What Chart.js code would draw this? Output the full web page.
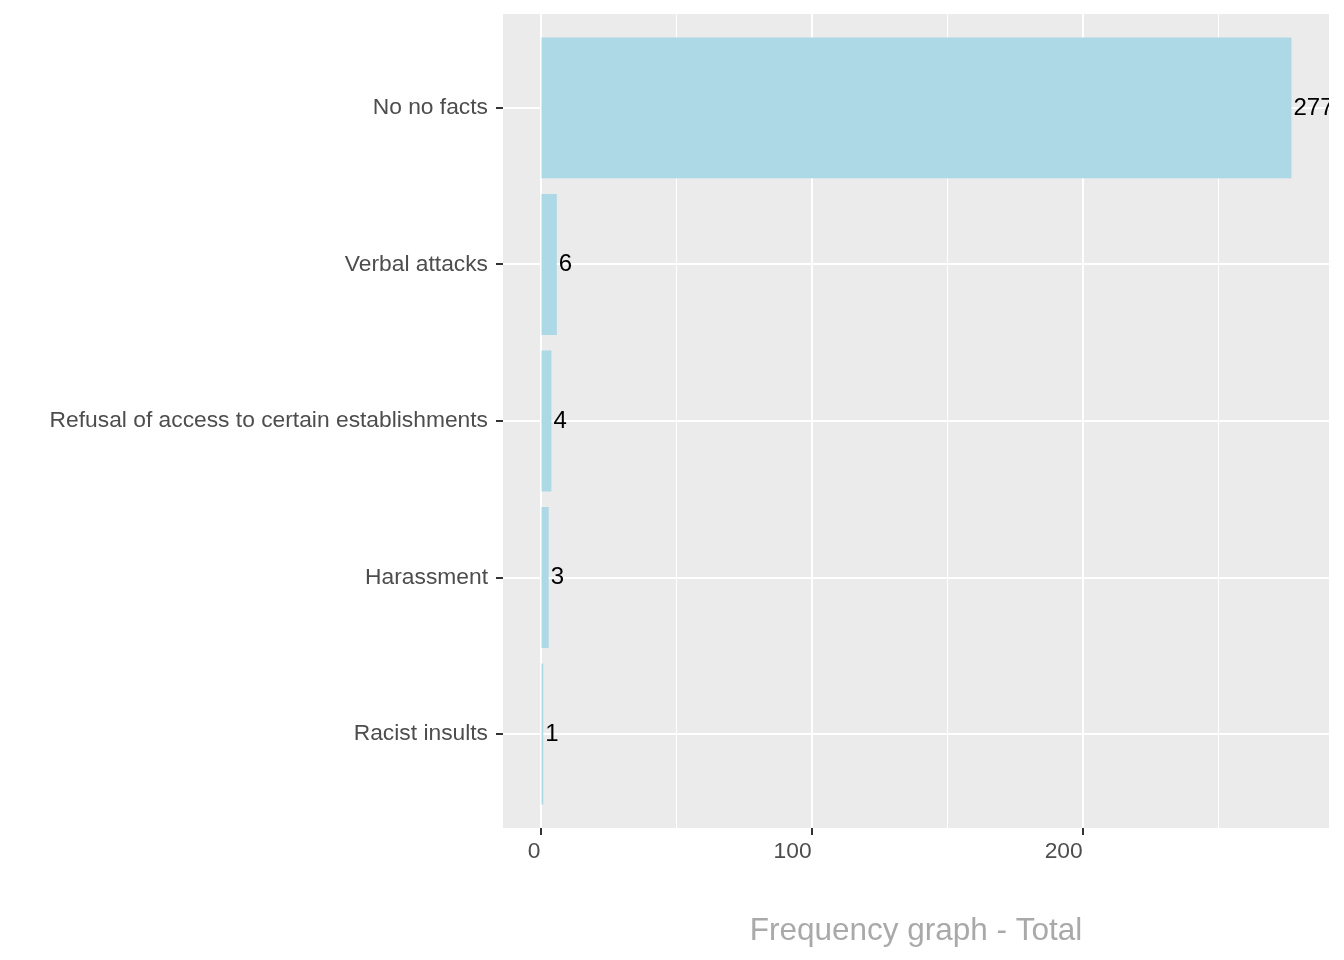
<!DOCTYPE html>
<html>
<head>
<meta charset="utf-8">
<script src="https://cdn.jsdelivr.net/npm/chart.js@4/dist/chart.umd.min.js"></script>
<style>
  html, body { margin: 0; padding: 0; background: #ffffff; }
  #wrap { width: 1344px; height: 960px; position: relative; }
</style>
</head>
<body>
<div id="wrap"><canvas id="c" width="1344" height="960"></canvas></div>
<script>
const categories = ["No no facts", "Verbal attacks", "Refusal of access to certain establishments", "Harassment", "Racist insults"];
const values = [277, 6, 4, 3, 1];
const xTickValues = [0, 50, 100, 150, 200, 250];
const xTickLabels = ["0", "", "100", "", "200", ""];
const axisTitle = "Frequency graph - Total";

const FONT = "Arial, 'Liberation Sans', Helvetica, sans-serif";
const maxVal = Math.max(...values);
const xExp = maxVal * 0.05;

const panelBg = {
  id: 'panelBg',
  beforeDraw(chart) {
    const a = chart.chartArea, ctx = chart.ctx;
    ctx.save();
    ctx.fillStyle = '#EBEBEB';
    ctx.fillRect(a.left, a.top, a.right - a.left, a.bottom - a.top);
    ctx.restore();
  }
};

const valueLabels = {
  id: 'valueLabels',
  afterDatasetsDraw(chart) {
    const a = chart.chartArea, ctx = chart.ctx;
    const xs = chart.scales.x, ys = chart.scales.y;
    ctx.save();
    ctx.beginPath();
    ctx.rect(a.left, a.top, a.right - a.left, a.bottom - a.top);
    ctx.clip();
    ctx.fillStyle = '#000000';
    ctx.font = '24px ' + FONT;
    ctx.textAlign = 'left';
    ctx.textBaseline = 'middle';
    values.forEach((v, i) => {
      ctx.fillText(String(v), xs.getPixelForValue(v) + 2, ys.getPixelForValue(i + 1));
    });
    ctx.restore();
  }
};

new Chart(document.getElementById('c'), {
  type: 'bar',
  data: {
    datasets: [{
      data: categories.map((c, i) => ({ x: values[i], y: i + 1 })),
      backgroundColor: '#ADD8E6',
      borderWidth: 0,
      barPercentage: 0.9,
      categoryPercentage: 1.0
    }]
  },
  options: {
    indexAxis: 'y',
    responsive: false,
    animation: false,
    events: [],
    layout: { padding: { left: 0, right: 15, top: 14, bottom: 0 }, autoPadding: false },
    plugins: { legend: { display: false }, tooltip: { enabled: false }, title: { display: false } },
    scales: {
      x: {
        type: 'linear',
        position: 'bottom',
        min: -xExp,
        max: maxVal + xExp,
        offset: false,
        afterBuildTicks(scale) { scale.ticks = xTickValues.map(v => ({ value: v })); },
        afterFit(scale) { scale.height = 132; scale.paddingLeft = 0; scale.paddingRight = 0; },
        border: { display: false },
        grid: {
          offset: false,
          color: '#FFFFFF',
          lineWidth: ctx => (ctx.tick && ctx.tick.value % 100 === 0) ? 2 : 1,
          tickColor: ctx => (ctx.tick && ctx.tick.value % 100 === 0) ? '#333333' : 'rgba(0,0,0,0)',
          tickWidth: 2,
          tickLength: 7,
          drawTicks: true
        },
        ticks: {
          autoSkip: false,
          maxRotation: 0,
          align: 'end',
          padding: 3,
          color: '#4D4D4D',
          font: { family: FONT, size: 22.8 },
          callback: (v) => { const i = xTickValues.indexOf(v); return i >= 0 ? xTickLabels[i] : ''; }
        },
        title: {
          display: true,
          text: axisTitle,
          color: '#A9A9A9',
          font: { family: FONT, size: 31.5 },
          padding: { top: 0, bottom: 10 }
        }
      },
      y: {
        type: 'linear',
        position: 'left',
        reverse: true,
        offset: false,
        min: 0.4,
        max: categories.length + 0.6,
        afterBuildTicks(scale) { scale.ticks = categories.map((c, i) => ({ value: i + 1 })); },
        afterFit(scale) { scale.width = 503; scale.paddingTop = 0; scale.paddingBottom = 0; },
        border: { display: false },
        grid: {
          offset: false,
          color: '#FFFFFF',
          lineWidth: 2,
          tickColor: '#333333',
          tickWidth: 2,
          tickLength: 7
        },
        ticks: {
          autoSkip: false,
          padding: 8,
          color: '#4D4D4D',
          font: { family: FONT, size: 22.8 },
          callback: (v) => categories[Math.round(v) - 1] || ''
        }
      }
    }
  },
  plugins: [panelBg, valueLabels]
});
</script>
</body>
</html>
